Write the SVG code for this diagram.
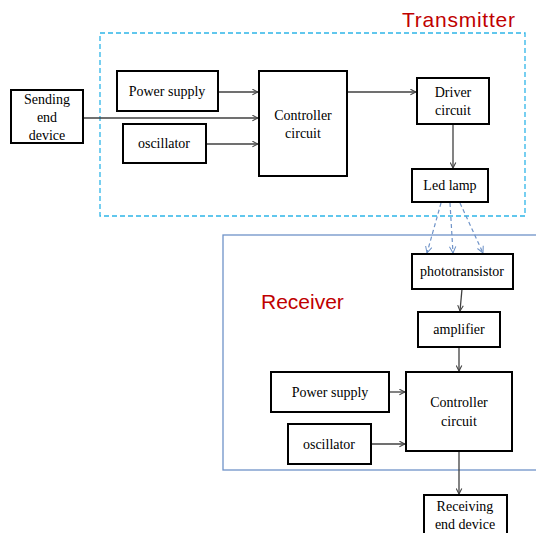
<svg xmlns="http://www.w3.org/2000/svg" width="536" height="533" viewBox="0 0 536 533">
<defs>
<marker id="arr" viewBox="0 0 10 10" refX="9" refY="5" markerWidth="7" markerHeight="7" orient="auto" markerUnits="userSpaceOnUse">
<path d="M1,1 L9,5 L1,9" fill="none" stroke="#404040" stroke-width="1.5"/>
</marker>
<marker id="arrb" viewBox="0 0 10 10" refX="9" refY="5" markerWidth="8" markerHeight="8" orient="auto" markerUnits="userSpaceOnUse">
<path d="M1,1 L9,5 L1,9" fill="none" stroke="#6f93c8" stroke-width="1.3"/>
</marker>
</defs>
<style>
.box{fill:#fff;stroke:#000;stroke-width:2}
.c{stroke:#404040;stroke-width:1.3;fill:none;marker-end:url(#arr)}
.cb{stroke:#6f93c8;stroke-width:1.2;fill:none;stroke-dasharray:4 3;marker-end:url(#arrb)}
</style>
<rect x="0" y="0" width="536" height="533" fill="#fff"/>
<g id="transmitter-frame">
<rect x="100" y="33" width="425" height="183" fill="none" stroke="#2eb5e8" stroke-width="1.3" stroke-dasharray="5 3"/>
<text font-family="Liberation Sans" font-size="21" fill="#c00000" x="402" y="27" textLength="113">Transmitter</text>
</g>
<g id="receiver-frame">
<rect x="223" y="235" width="320" height="235" fill="none" stroke="#6f93c8" stroke-width="1.3"/>
<text font-family="Liberation Sans" font-size="21" fill="#c00000" x="261" y="309">Receiver</text>
</g>
<g id="connectors">
<line class="c" x1="218" y1="92" x2="258" y2="92"/>
<line class="c" x1="83" y1="118" x2="258" y2="118"/>
<line class="c" x1="206" y1="144" x2="258" y2="144"/>
<line class="c" x1="347" y1="92" x2="416" y2="92"/>
<line class="c" x1="453" y1="124" x2="453" y2="168"/>
<line class="cb" x1="441" y1="203" x2="427" y2="253"/>
<line class="cb" x1="450" y1="203" x2="453" y2="253"/>
<line class="cb" x1="460" y1="203" x2="483" y2="253"/>
<line class="c" x1="462" y1="289" x2="460" y2="311"/>
<line class="c" x1="459" y1="347" x2="459" y2="371"/>
<line class="c" x1="389" y1="392" x2="405" y2="392"/>
<line class="c" x1="371" y1="444" x2="405" y2="444"/>
<line class="c" x1="459" y1="451" x2="459" y2="494"/>
</g>
<g font-family="Liberation Serif" font-size="14" fill="#000" text-anchor="middle">
<g id="sending-end-device">
<rect class="box" x="11" y="90" width="72" height="53"/>
<text x="47" y="104">Sending</text>
<text x="47" y="122">end</text>
<text x="47" y="140">device</text>
</g>
<g id="tx-power-supply">
<rect class="box" x="117" y="71" width="101" height="40"/>
<text x="167" y="96">Power supply</text>
</g>
<g id="tx-oscillator">
<rect class="box" x="123" y="124" width="83" height="39"/>
<text x="164" y="148">oscillator</text>
</g>
<g id="tx-controller">
<rect class="box" x="259" y="71" width="88" height="105"/>
<text x="303" y="120">Controller</text>
<text x="303" y="138">circuit</text>
</g>
<g id="driver-circuit">
<rect class="box" x="417" y="78" width="72" height="46"/>
<text x="453" y="97">Driver</text>
<text x="453" y="115">circuit</text>
</g>
<g id="led-lamp">
<rect class="box" x="412" y="169" width="76" height="33"/>
<text x="450" y="190">Led lamp</text>
</g>
<g id="phototransistor">
<rect class="box" x="412" y="254" width="101" height="35"/>
<text x="462" y="276">phototransistor</text>
</g>
<g id="amplifier">
<rect class="box" x="418" y="312" width="82" height="35"/>
<text x="459" y="334">amplifier</text>
</g>
<g id="rx-power-supply">
<rect class="box" x="271" y="372" width="118" height="40"/>
<text x="330" y="397">Power supply</text>
</g>
<g id="rx-oscillator">
<rect class="box" x="288" y="424" width="83" height="40"/>
<text x="329" y="449">oscillator</text>
</g>
<g id="rx-controller">
<rect class="box" x="406" y="372" width="106" height="79"/>
<text x="459" y="407">Controller</text>
<text x="459" y="426">circuit</text>
</g>
<g id="receiving-end-device">
<rect class="box" x="424" y="495" width="83" height="45"/>
<text x="465" y="511">Receiving</text>
<text x="465" y="529">end device</text>
</g>
</g>
</svg>
